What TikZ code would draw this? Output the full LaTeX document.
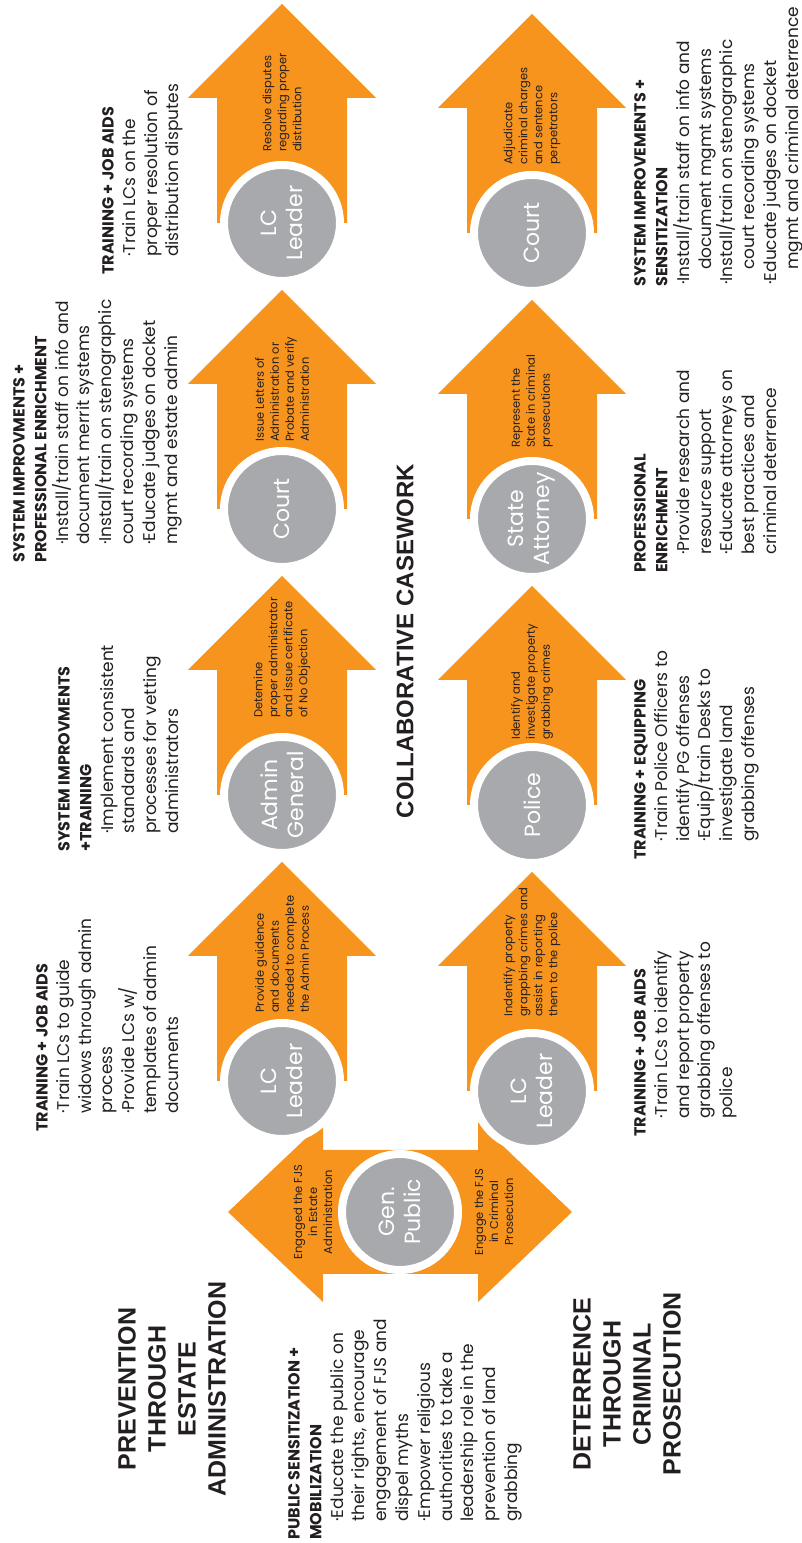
\documentclass[tikz,border=0pt]{standalone}
\usepackage{fontspec}
\setmainfont{Poppins}
\newfontfamily\headfont{Liberation Sans}

\definecolor{fjsorange}{HTML}{F7941E}
\definecolor{fjsgray}{HTML}{A7A9AC}
\definecolor{fjstext}{HTML}{231F20}

\newcommand{\ind}{\hspace*{18pt}}
\newcommand{\aidhead}[1]{{\bfseries\fontsize{16}{21.8}\selectfont #1}}

\tikzset{
  actor/.style={circle, fill=fjsgray, draw=white, line width=8pt, minimum size=116pt,
                inner sep=0pt, text=white, align=center, font=\fontsize{22}{26}\selectfont},
  task/.style={anchor=west, align=left, inner sep=0pt, text=fjstext,
               font=\fontsize{11.5}{15}\selectfont},
  aids/.style={anchor=north west, align=left, inner sep=0pt, text=fjstext,
               font=\fontsize{17}{21.8}\selectfont},
  phase/.style={align=center, inner sep=0pt, text=fjstext,
                font=\headfont\bfseries\fontsize{25}{30}\selectfont},
}

\begin{document}
\begin{tikzpicture}[x=1pt, y=1pt, rotate=90, transform shape]
    \useasboundingbox (0,0) rectangle (1543,-801);

    % Block arrows behind the actors
    \foreach \cx/\cy in {462/-282, 748/-282, 1034/-282, 1320/-282,
                         452/-532, 738/-532, 1024/-532, 1310/-532}
        \fill[fjsorange] (\cx,\cy+65) -- (\cx+125,\cy+65) -- (\cx+125,\cy+94)
            -- (\cx+219,\cy) -- (\cx+125,\cy-94) -- (\cx+125,\cy-65)
            -- (\cx,\cy-65) -- cycle;

    % Double arrow of the general public
    \fill[fjsorange] (269,-323) -- (241,-323) -- (331,-228) -- (421,-323)
        -- (393,-323) -- (393,-478) -- (421,-478) -- (331,-572)
        -- (241,-478) -- (269,-478) -- cycle;

    % Actors
    \node[actor] (pub)  at (331,-400)  {Gen.\\Public};
    \node[actor] (lc1)  at (462,-282)  {LC\\Leader};
    \node[actor] (adm)  at (748,-282)  {Admin\\General};
    \node[actor] (crt1) at (1034,-282) {Court};
    \node[actor] (lc2)  at (1320,-282) {LC\\Leader};
    \node[actor] (lc3)  at (452,-532)  {LC\\Leader};
    \node[actor] (pol)  at (738,-532)  {Police};
    \node[actor] (sta)  at (1024,-532) {State\\Attorney};
    \node[actor] (crt2) at (1310,-532) {Court};

    % Tasks inside the arrows
    \node[task, anchor=center, align=center] (pubup) at (331,-313) {Engaged the FJS\\in Estate\\Administration};
    \node[task, anchor=center, align=center] (pubdn) at (331,-494) {Engage the FJS\\in Criminal\\Prosecution};
    \node[task] (lc1t)  at (530,-282)  {Provide guidence\\and documents\\needed to complete\\the Admin Process};
    \node[task] (admt)  at (825,-282)  {Detemine\\proper administrator\\and issue certificate\\of No Objection};
    \node[task] (crt1t) at (1101,-282) {Issue Letters of\\Administration or\\Probate and verify\\Administration};
    \node[task] (lc2t)  at (1391,-282) {Resolve disputes\\regarding proper\\distribution};
    \node[task] (lc3t)  at (526,-532)  {Indentify property\\grappbing crimes and\\assist in reporting\\them to the police};
    \node[task] (polt)  at (803,-532)  {Identify and\\investigate property\\grabbing crimes};
    \node[task] (stat)  at (1095,-532) {Represent the\\State in criminal\\prosecutions};
    \node[task] (crt2t) at (1378,-532) {Adjudicate\\criminal charges\\and sentence\\perpetrators};

    % Phase headings
    \node[phase] (prev) at (154,-172) {PREVENTION\\THROUGH\\ESTATE\\ADMINISTRATION};
    \node[phase] (dete) at (159,-627) {DETERRENCE\\THROUGH\\CRIMINAL\\PROSECUTION};
    \node[phase, font=\headfont\bfseries\fontsize{24}{28}\selectfont] (coll) at (902,-405) {COLLABORATIVE CASEWORK};

    % Interventions
    \node[aids] (pubaid) at (3,-288) {\aidhead{PUBLIC SENSITIZATION +}\\\aidhead{MOBILIZATION}\\
        \ind·Educate the public on\\\ind their rights, encourage\\\ind engagement of FJS and\\\ind dispel myths\\
        \ind·Empower religious\\\ind authorities to take a\\\ind leadership role in the\\\ind prevention of land\\\ind grabbing};
    \node[aids] (lc1aid) at (411,-36) {\aidhead{TRAINING + JOB AIDS}\\
        \ind·Train LCs to guide\\\ind widows through admin\\\ind process\\
        \ind·Provide LCs w/\\\ind templates of admin\\\ind documents};
    \node[aids] (admaid) at (691,-58) {\aidhead{SYSTEM IMPROVMENTS}\\\aidhead{+TRAINING}\\
        \ind·Implement consistent\\\ind standards and\\\ind processes for vetting\\\ind administrators};
    \node[aids] (crt1aid) at (980,-13) {\aidhead{SYSTEM IMPROVMENTS +}\\\aidhead{PROFESSIONAL ENRICHMENT}\\
        \ind·Install/train staff on info and\\\ind document merrit systems\\
        \ind·Install/train on stenographic\\\ind court recording systems\\
        \ind·Educate judges on docket\\\ind mgmt and estate admin};
    \node[aids] (lc2aid) at (1268,-102) {\aidhead{TRAINING + JOB AIDS}\\
        \ind·Train LCs on the\\\ind proper resolution of\\\ind distribution disputes};
    \node[aids] (lc3aid) at (406,-634) {\aidhead{TRAINING + JOB AIDS}\\
        \ind·Train LCs to identify\\\ind and report property\\\ind grabbing offenses to\\\ind police};
    \node[aids] (polaid) at (683,-634) {\aidhead{TRAINING + EQUIPPING}\\
        \ind·Train Police Officers to\\\ind identify PG offenses\\
        \ind·Equip/train Desks to\\\ind investigate land\\\ind grabbing offenses};
    \node[aids] (staaid) at (970,-634) {\aidhead{PROFESSIONAL}\\\aidhead{ENRICHMENT}\\
        \ind·Provide research and\\\ind resource support\\
        \ind·Educate attorneys on\\\ind best practices and\\\ind criminal deterrence};
    \node[aids] (crt2aid) at (1256,-634) {\aidhead{SYSTEM IMPROVEMENTS +}\\\aidhead{SENSITIZATION}\\
        \hspace*{2pt}·Install/train staff on info and\\\hspace*{17pt}document mgmt systems\\
        \hspace*{2pt}·Install/train on stenographic\\\hspace*{17pt}court recording systems\\
        \hspace*{2pt}·Educate judges on docket\\\hspace*{17pt}mgmt and criminal deterrence};
\end{tikzpicture}
\end{document}
